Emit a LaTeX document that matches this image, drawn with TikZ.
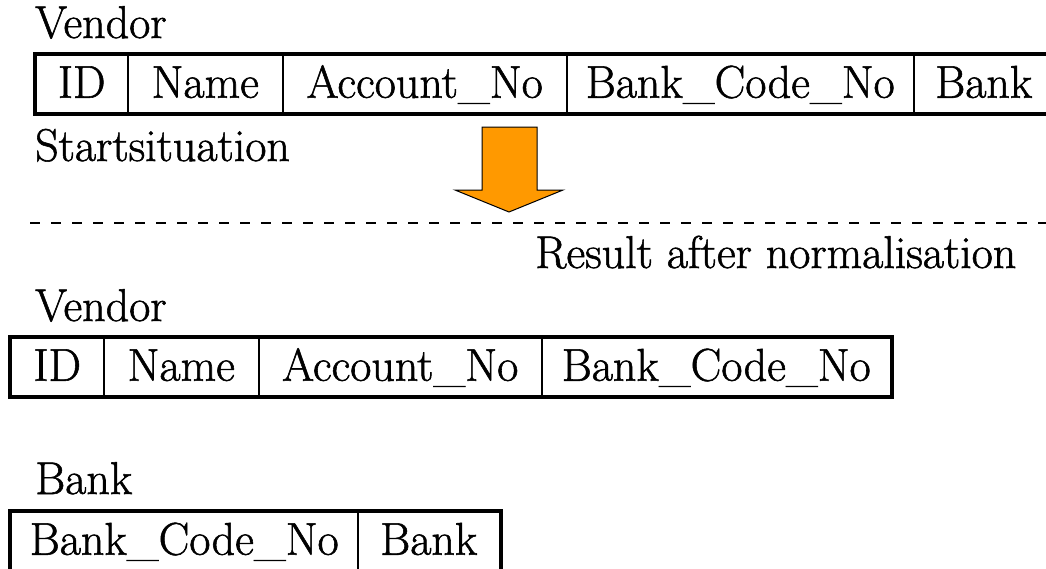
\documentclass[tikz,border=0pt]{standalone}
\usepackage{fontspec}
\newfontfamily\lmr{Latin Modern Roman}[FakeBold=1.2]
\begin{document}
\begin{tikzpicture}[x=1pt,y=-1pt,
  txt/.style={font=\lmr\fontsize{46}{50}\selectfont, inner sep=0pt},
  label/.style={txt, anchor=base west},
  cell/.style={txt, draw, line width=1.5pt, anchor=north west,
    minimum height=58pt, text height=37pt, text depth=9pt},
  outer/.style={line width=4pt},
  sep/.style={line width=2pt, dash pattern=on 10pt off 11pt},
  arrowfill/.style={fill={rgb,255:red,255;green,153;blue,0}, draw=black, line width=1pt, line join=miter}
]
\path[use as bounding box] (0,0) rectangle (1046,568);
\clip (0,0) rectangle (1046,568);

% --- start situation
\node[label] (lv1) at (35,38) {Vendor};
\node[cell, minimum width=92pt]  (a1) at (35,54)  {ID};
\node[cell, minimum width=155pt] (a2) at (127,54) {Name};
\node[cell, minimum width=284pt] (a3) at (282,54) {Account\_No};
\node[cell, minimum width=347pt] (a4) at (566,54) {Bank\_Code\_No};
\node[cell, minimum width=140pt] (a5) at (913,54) {Bank};
\draw[outer] (a1.north west) rectangle (a5.south east);
\node[label] (ls) at (35,161) {Startsituation};

% --- arrow
\draw[arrowfill] (482,127) -- (537,127) -- (537,190) -- (563,190) -- (509,212)
  -- (455,190) -- (482,190) -- cycle;

% --- separator
\coordinate (d1) at (30,223);
\coordinate (d2) at (1046,223);
\draw[sep] (d1) -- (d2);
\node[label] (lr) at (535,268) {Result after normalisation};

% --- result: vendor
\node[label] (lv2) at (35,321) {Vendor};
\node[cell, minimum width=93pt]  (b1) at (10,337)  {ID};
\node[cell, minimum width=155pt] (b2) at (103,337) {Name};
\node[cell, minimum width=283pt] (b3) at (258,337) {Account\_No};
\node[cell, minimum width=349pt] (b4) at (541,337) {Bank\_Code\_No};
\draw[outer] (b1.north west) rectangle (b4.south east);

% --- result: bank
\node[label] (lb) at (35,494) {Bank};
\node[cell, minimum width=347pt] (c1) at (10,511)  {Bank\_Code\_No};
\node[cell, minimum width=142pt] (c2) at (357,511) {Bank};
\draw[outer] (c1.north west) rectangle (c2.south east);
\end{tikzpicture}
\end{document}
